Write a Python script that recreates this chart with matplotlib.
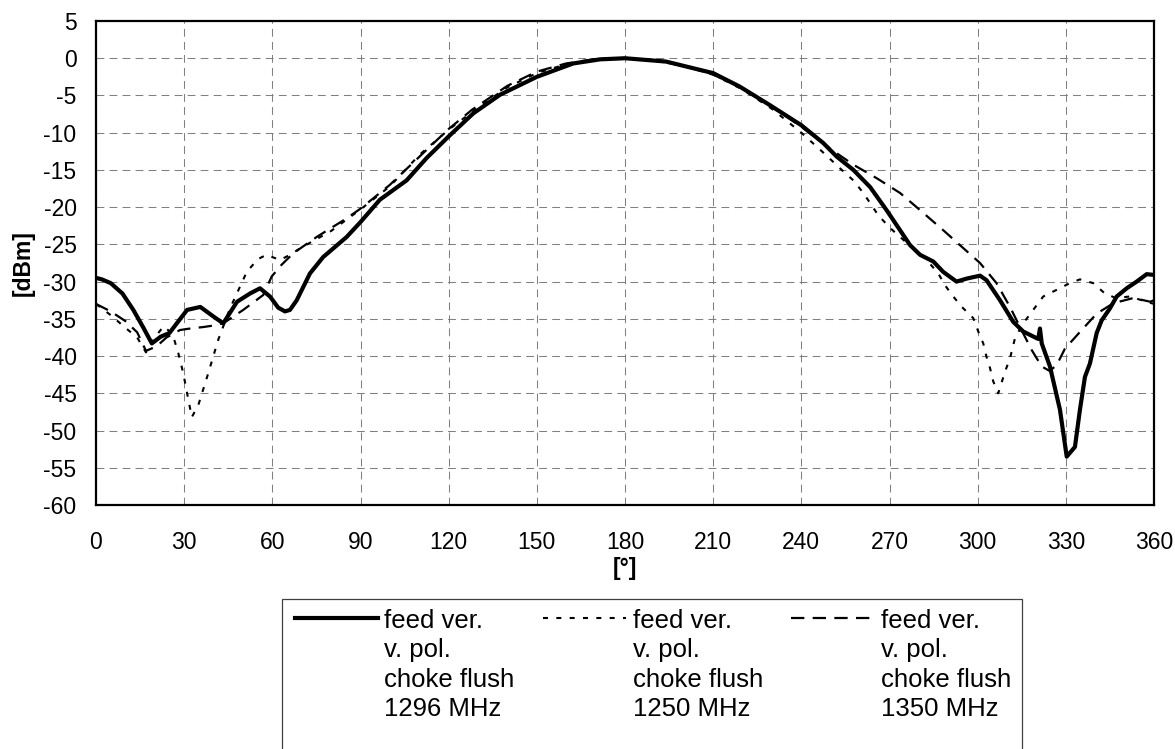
import numpy as np
import matplotlib
matplotlib.use("Agg")
import matplotlib.pyplot as plt
from matplotlib.lines import Line2D
from matplotlib.patches import Rectangle

plt.rcParams['font.family'] = ['Liberation Sans', 'DejaVu Sans']
plt.rcParams['axes.unicode_minus'] = False

# angle [deg] and level [dBm]
ang_1296 = [0, 2, 5, 9, 12.7, 16, 19, 22, 25, 27.5, 31, 35.5, 40, 43.3, 48, 52.4, 55.8,
            59.2, 62, 64.3, 66, 68.3, 72.8, 77.3, 85.3, 90, 96.6, 105.7, 112.5, 120,
            128.4, 137.5, 150, 162.4, 171.5, 180, 194, 210, 219, 229.3, 240, 247.5, 252,
            257.7, 263.4, 269, 273.6, 277, 280.4, 284.9, 288.3, 292.8, 296.2, 300.8, 303,
            307.6, 312.1, 315.5, 320.6, 321.2, 321.8, 324.6, 328, 330.3, 333.1, 334.8,
            336.5, 338.2, 340.5, 342.2, 345, 347.3, 350.7, 354.1, 357.5, 360]
db_1296 = [-29.5, -29.7, -30.2, -31.6, -33.8, -36.1, -38.3, -37.4, -36.9, -35.6, -33.8,
           -33.4, -34.7, -35.6, -32.7, -31.6, -30.9, -32.0, -33.5, -34.0, -33.8, -32.5,
           -28.9, -26.7, -24.0, -22.0, -19.0, -16.4, -13.4, -10.5, -7.4, -4.9, -2.5,
           -0.7, -0.15, 0.0, -0.45, -2.0, -3.8, -6.3, -9.0, -11.4, -13.2, -15.0, -17.3,
           -20.4, -23.1, -25.1, -26.4, -27.3, -28.7, -30.0, -29.6, -29.2, -29.8, -32.5,
           -35.4, -36.7, -37.7, -36.3, -38.3, -41.4, -47.2, -53.5, -52.2, -47.2, -42.8,
           -41.0, -36.9, -35.2, -33.6, -32.0, -30.9, -30.0, -29.0, -29.1]

ang_1250 = [0, 5, 10, 14, 17, 20, 23, 26, 28, 29.7, 30.9, 32.6, 34.8, 38.2, 41.6, 45.6,
            51.3, 55, 58, 62.6, 66, 70, 80, 90, 100, 110, 120, 130, 140, 150, 160, 170,
            180, 190, 200, 210, 220, 230, 240, 247, 254.3, 257.7, 261.1, 266.2, 270.2,
            277, 282, 286.6, 288.9, 291.7, 294.6, 298.5, 300.2, 301.9, 303, 304.2, 305.3,
            307, 309.3, 311, 312.7, 315.5, 318.9, 322.3, 326.9, 331.4, 334.8, 339.3,
            343.3, 347, 351.8, 355.8, 360]
db_1250 = [-33.0, -34.5, -36.2, -37.5, -39.5, -37.5, -36.0, -37.0, -39.6, -42.3, -44.8,
           -48.2, -46.6, -42.3, -37.8, -33.6, -28.7, -27.0, -26.4, -27.1, -26.4, -25.4,
           -23.2, -20.3, -17.2, -13.0, -9.6, -6.6, -3.9, -2.0, -0.8, -0.2, 0.0, -0.3,
           -1.0, -2.2, -4.2, -6.8, -10.0, -12.5, -15.2, -16.4, -18.1, -21.1, -22.8,
           -25.2, -26.8, -28.9, -30.5, -32.0, -33.4, -34.9, -36.7, -38.3, -40.1, -41.6,
           -43.4, -45.0, -42.1, -40.3, -37.6, -35.6, -33.8, -32.0, -31.1, -30.2, -29.7,
           -30.2, -31.6, -32.2, -32.0, -32.5, -33.0]

ang_1350 = [0, 5, 10, 14, 17, 20.6, 24, 28.6, 32, 36.5, 40, 43.3, 50.1, 56.9, 59.8, 63,
            67.1, 75.1, 85.3, 90, 100, 112.5, 120, 128, 140, 150, 160, 170, 180, 190,
            200, 210, 220, 230, 240, 250, 257.7, 265.6, 273.6, 280.4, 288.3, 295.1,
            300.8, 306.4, 311, 314.4, 318.4, 321.8, 324.5, 326.9, 329.7, 335.4, 340.5,
            346.2, 353, 358.7, 360]
db_1350 = [-33.0, -34.0, -35.3, -36.8, -39.3, -38.7, -37.5, -36.5, -36.3, -36.1, -35.9,
           -35.6, -33.8, -31.8, -29.3, -27.8, -26.2, -24.0, -21.5, -20.2, -17.0, -12.3,
           -9.5, -6.9, -3.7, -1.8, -0.7, -0.1, 0.0, -0.3, -1.0, -2.2, -4.0, -6.5, -9.2,
           -12.2, -14.3, -16.1, -18.1, -20.4, -23.1, -25.5, -27.5, -30.2, -33.4, -36.1,
           -39.2, -41.4, -42.0, -41.2, -39.0, -36.5, -34.3, -32.9, -32.2, -32.7, -32.5]

labels = ["feed ver.\nv. pol.\nchoke flush\n1296 MHz",
          "feed ver.\nv. pol.\nchoke flush\n1250 MHz",
          "feed ver.\nv. pol.\nchoke flush\n1350 MHz"]

W, H = 1175, 749
fig = plt.figure(figsize=(W / 100, H / 100), dpi=100)
ax = fig.add_axes([96 / W, 1 - 505 / H, (1154 - 96) / W, (505 - 21) / H])

styles = [dict(color='black', lw=3.0, ls='-'),
          dict(color='black', lw=1.5, ls=(0, (2.4, 4))),
          dict(color='black', lw=1.6, ls=(0, (6, 3.75)))]

ax.plot(ang_1296, db_1296, **styles[0])
ax.plot(ang_1250, db_1250, **styles[1])
ax.plot(ang_1350, db_1350, **styles[2])

ax.set_xlim(0, 360)
ax.set_ylim(-60, 5)
ax.set_xticks(np.arange(0, 361, 30))
ax.set_yticks(np.arange(-60, 6, 5))
ax.grid(True, color='#808080', lw=0.75, ls=(0, (7.5, 5)))
ax.tick_params(length=0, labelsize=16.5)
ax.tick_params(axis='x', pad=19)
ax.tick_params(axis='y', pad=14)
for s in ax.spines.values():
    s.set_linewidth(1.6)
    s.set_color('black')

ax.set_xlabel('[°]', fontsize=16.5, fontweight='bold')
ax.set_ylabel('[dBm]', fontsize=16.5, fontweight='bold')
ax.xaxis.set_label_coords(0.5, (505 - 557) / 484)
ax.yaxis.set_label_coords((35 - 96) / 1058, 0.5)

# legend drawn by hand so the line sits on the first text row
fig.patches.append(Rectangle((282 / W, 1 - 770 / H), (1022 - 282) / W, (770 - 599) / H,
                             transform=fig.transFigure, fill=False,
                             edgecolor='#404040', lw=0.9))
col_x = [295, 543, 791]
row_y = 618
for cx, lab, st in zip(col_x, labels, styles):
    fig.lines.append(Line2D([cx / W, (cx + 83) / W], [1 - row_y / H] * 2,
                            transform=fig.transFigure, **st))
    fig.text((cx + 89.5) / W, 1 - 609 / H, lab, fontsize=18.5,
             va='top', ha='left', linespacing=1.28)

fig.savefig('out.png', dpi=100)
